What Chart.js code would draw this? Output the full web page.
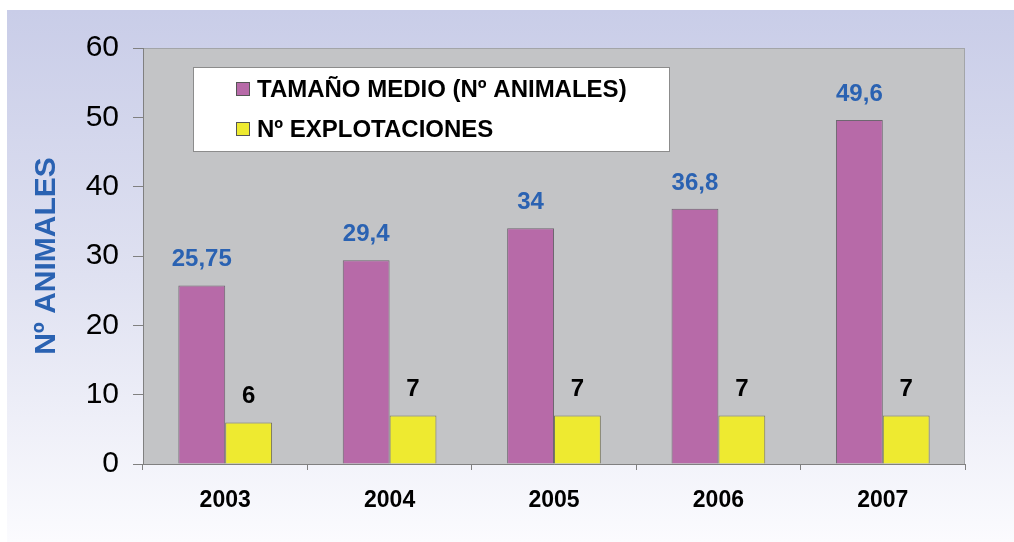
<!DOCTYPE html>
<html>
<head>
<meta charset="utf-8">
<script src="https://cdn.jsdelivr.net/npm/chart.js@4.4.1/dist/chart.umd.min.js"></script>
<style>
  html, body { margin: 0; padding: 0; background: #fff; }
  #wrap { position: relative; width: 1014px; height: 542px; }
</style>
</head>
<body>
<div id="wrap"><canvas id="chart" width="1014" height="542"></canvas></div>
<script>
// datos del gráfico
const years = ['2003', '2004', '2005', '2006', '2007'];
const tamanoMedio = [25.75, 29.4, 34, 36.8, 49.6];
const explotaciones = [6, 7, 7, 7, 7];
const seriesLabels = ['TAMAÑO MEDIO (Nº ANIMALES)', 'Nº EXPLOTACIONES'];
const yTitle = 'Nº ANIMALES';
const yMax = 60;
const yStep = 10;

const FONT = '"Liberation Sans", Arial, sans-serif';

// fondo degradado y área de trazado gris
const backgroundPlugin = {
    id: 'fondo',
    beforeDraw(chart) {
        const ctx = chart.ctx;
        ctx.save();
        ctx.fillStyle = '#ffffff';
        ctx.fillRect(0, 0, chart.width, chart.height);
        const g = ctx.createLinearGradient(0, 10, 0, chart.height);
        g.addColorStop(0, '#c9cde8');
        g.addColorStop(0.5, '#dfe1f1');
        g.addColorStop(1, '#fbfbfe');
        ctx.fillStyle = g;
        ctx.fillRect(7, 10, chart.width - 7, chart.height - 10);
        const a = chart.chartArea;
        ctx.fillStyle = '#c3c4c6';
        ctx.fillRect(a.left, a.top, a.right - a.left, a.bottom - a.top);
        ctx.strokeStyle = '#a3a5a8';
        ctx.lineWidth = 1;
        ctx.strokeRect(a.left + 0.5, a.top + 0.5, a.right - a.left - 1, a.bottom - a.top);
        ctx.restore();
    }
};

// leyenda dentro del área y etiquetas de valores
const labelsPlugin = {
    id: 'etiquetas',
    afterDatasetsDraw(chart) {
        const ctx = chart.ctx;
        ctx.save();
        ctx.font = 'bold 24px ' + FONT;
        ctx.textAlign = 'center';
        ctx.textBaseline = 'alphabetic';
        chart.data.datasets.forEach((ds, i) => {
            const meta = chart.getDatasetMeta(i);
            ctx.fillStyle = i === 0 ? '#2a62b2' : '#000000';
            meta.data.forEach((bar, j) => {
                const txt = String(ds.data[j]).replace('.', ',');
                ctx.fillText(txt, bar.x, bar.y - 19);
            });
        });

        // leyenda
        const bx = 193, by = 67, bw = 476, bh = 84;
        ctx.fillStyle = '#ffffff';
        ctx.fillRect(bx, by, bw, bh);
        ctx.strokeStyle = '#8c8c8c';
        ctx.lineWidth = 1;
        ctx.strokeRect(bx + 0.5, by + 0.5, bw, bh);
        ctx.font = 'bold 24px ' + FONT;
        ctx.textAlign = 'left';
        ctx.textBaseline = 'middle';
        chart.data.datasets.forEach((ds, i) => {
            const cy = by + 22 + i * 40;
            ctx.fillStyle = ds.backgroundColor;
            ctx.fillRect(236, cy - 7, 14, 14);
            ctx.strokeStyle = '#555555';
            ctx.strokeRect(236.5, cy - 6.5, 13, 13);
            ctx.fillStyle = '#000000';
            ctx.fillText(ds.label, 257, cy + 1);
        });
        ctx.restore();
    }
};

new Chart(document.getElementById('chart').getContext('2d'), {
    type: 'bar',
    data: {
        labels: years,
        datasets: [
            {
                label: seriesLabels[0],
                data: tamanoMedio,
                backgroundColor: '#b76aa8',
                borderColor: '#6e6670',
                borderWidth: 1
            },
            {
                label: seriesLabels[1],
                data: explotaciones,
                backgroundColor: '#eeea30',
                borderColor: '#7a7860',
                borderWidth: 1
            }
        ]
    },
    options: {
        responsive: false,
        animation: false,
        devicePixelRatio: 1,
        layout: { padding: { top: 48, right: 49, left: 0, bottom: 0 } },
        plugins: {
            legend: { display: false },
            tooltip: { enabled: false }
        },
        datasets: {
            bar: { categoryPercentage: 0.57, barPercentage: 1 }
        },
        scales: {
            x: {
                grid: {
                    offset: true,
                    drawOnChartArea: false,
                    color: '#808080',
                    tickLength: 6
                },
                border: { color: '#808080' },
                ticks: {
                    color: '#000000',
                    font: { family: FONT, size: 23, weight: 'bold' },
                    padding: 17
                },
                afterFit(scale) { scale.height = 78; }
            },
            y: {
                min: 0,
                max: yMax,
                grid: {
                    drawOnChartArea: false,
                    color: '#808080',
                    tickLength: 10
                },
                border: { color: '#808080' },
                ticks: {
                    stepSize: yStep,
                    color: '#000000',
                    font: { family: FONT, size: 30 },
                    padding: 14
                },
                title: {
                    display: true,
                    text: yTitle,
                    color: '#2a62b2',
                    font: { family: FONT, size: 30, weight: 'bold' },
                    padding: { top: 29, bottom: 0 }
                },
                afterFit(scale) { scale.width = 143; }
            }
        }
    },
    plugins: [backgroundPlugin, labelsPlugin]
});
</script>
</body>
</html>
